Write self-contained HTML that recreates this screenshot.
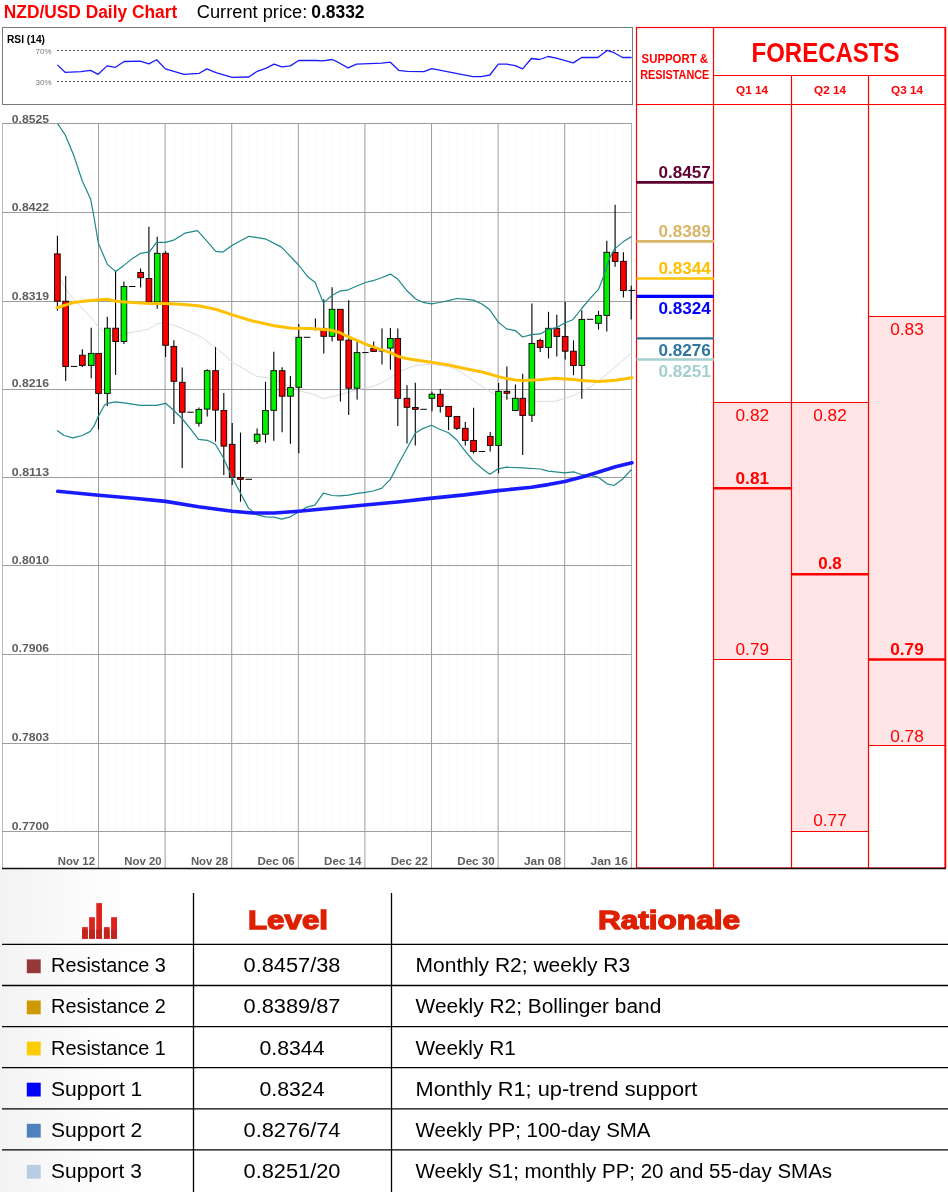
<!DOCTYPE html>
<html><head><meta charset="utf-8"><title>NZD/USD Daily Chart</title>
<style>
html,body{margin:0;padding:0;background:#fff}
body{width:948px;height:1192px;position:relative;overflow:hidden;font-family:"Liberation Sans",sans-serif}
</style></head><body>
<svg width="948" height="880" viewBox="0 0 948 880" style="position:absolute;left:0;top:0" font-family="'Liberation Sans', sans-serif">
<text x="3.8" y="17.8" font-size="17.5" font-weight="bold" fill="#ff0000" textLength="173.4" lengthAdjust="spacingAndGlyphs">NZD/USD Daily Chart</text>
<text x="196.8" y="18.2" font-size="18" fill="#000" textLength="110.5" lengthAdjust="spacingAndGlyphs">Current price:</text>
<text x="311.2" y="18.2" font-size="18" font-weight="bold" fill="#000" textLength="53.4" lengthAdjust="spacingAndGlyphs">0.8332</text>
<rect x="2.5" y="27.5" width="630" height="77" fill="#fff" stroke="#7a7a7a" stroke-width="1"/>
<line x1="57" y1="50.5" x2="632" y2="50.5" stroke="#555" stroke-width="1" stroke-dasharray="2,2"/>
<line x1="57" y1="81.5" x2="632" y2="81.5" stroke="#555" stroke-width="1" stroke-dasharray="2,2"/>
<text x="7" y="43" font-size="10.5" font-weight="bold" fill="#000" textLength="38" lengthAdjust="spacingAndGlyphs">RSI (14)</text>
<text x="51.5" y="53.8" font-size="8" fill="#777" text-anchor="end">70%</text>
<text x="51.5" y="84.6" font-size="8" fill="#777" text-anchor="end">30%</text>
<polyline points="57.4,64.9 65.1,72.3 81.0,71.6 90.5,70.3 98.2,74.3 107.0,65.9 115.4,67.3 124.2,61.5 140.1,61.2 148.9,63.9 156.6,59.8 165.4,68.9 184.0,74.3 199.2,73.3 206.9,68.9 216.0,72.7 232.2,77.4 248.8,77.0 257.2,71.3 265.7,68.3 274.1,64.2 281.9,66.9 290.3,65.9 298.7,60.5 316.0,60.5 322.8,60.8 332.2,59.5 337.9,62.2 348.1,67.9 356.5,64.2 381.8,63.2 390.3,62.2 398.7,70.3 407.1,71.3 424.0,71.6 431.8,68.6 451.0,72.3 473.0,76.7 481.4,76.7 489.8,75.0 498.3,64.2 506.7,64.2 515.2,65.6 522.6,68.9 531.4,58.5 539.5,59.5 548.2,56.5 556.3,58.1 573.2,62.9 581.7,57.5 597.9,57.5 607.0,50.4 614.1,52.7 622.5,57.5 631.6,57.5" fill="none" stroke="#1a1aff" stroke-width="1.3" stroke-linejoin="round"/>
<line x1="2.5" y1="123" x2="2.5" y2="868" stroke="#b8b8b8" stroke-width="1"/>
<line x1="631.5" y1="123" x2="631.5" y2="868" stroke="#b4b4b4" stroke-width="1"/>
<line x1="57.4" y1="124" x2="57.4" y2="831" stroke="#fafafa" stroke-width="1"/>
<line x1="65.7" y1="124" x2="65.7" y2="831" stroke="#fafafa" stroke-width="1"/>
<line x1="74.0" y1="124" x2="74.0" y2="831" stroke="#fafafa" stroke-width="1"/>
<line x1="82.3" y1="124" x2="82.3" y2="831" stroke="#fafafa" stroke-width="1"/>
<line x1="91.2" y1="124" x2="91.2" y2="831" stroke="#fafafa" stroke-width="1"/>
<line x1="98.5" y1="124" x2="98.5" y2="831" stroke="#fafafa" stroke-width="1"/>
<line x1="107.3" y1="124" x2="107.3" y2="831" stroke="#fafafa" stroke-width="1"/>
<line x1="115.6" y1="124" x2="115.6" y2="831" stroke="#fafafa" stroke-width="1"/>
<line x1="123.9" y1="124" x2="123.9" y2="831" stroke="#fafafa" stroke-width="1"/>
<line x1="132.3" y1="124" x2="132.3" y2="831" stroke="#fafafa" stroke-width="1"/>
<line x1="140.6" y1="124" x2="140.6" y2="831" stroke="#fafafa" stroke-width="1"/>
<line x1="148.9" y1="124" x2="148.9" y2="831" stroke="#fafafa" stroke-width="1"/>
<line x1="157.2" y1="124" x2="157.2" y2="831" stroke="#fafafa" stroke-width="1"/>
<line x1="165.6" y1="124" x2="165.6" y2="831" stroke="#fafafa" stroke-width="1"/>
<line x1="173.9" y1="124" x2="173.9" y2="831" stroke="#fafafa" stroke-width="1"/>
<line x1="182.2" y1="124" x2="182.2" y2="831" stroke="#fafafa" stroke-width="1"/>
<line x1="190.5" y1="124" x2="190.5" y2="831" stroke="#fafafa" stroke-width="1"/>
<line x1="198.9" y1="124" x2="198.9" y2="831" stroke="#fafafa" stroke-width="1"/>
<line x1="207.2" y1="124" x2="207.2" y2="831" stroke="#fafafa" stroke-width="1"/>
<line x1="215.5" y1="124" x2="215.5" y2="831" stroke="#fafafa" stroke-width="1"/>
<line x1="223.8" y1="124" x2="223.8" y2="831" stroke="#fafafa" stroke-width="1"/>
<line x1="232.2" y1="124" x2="232.2" y2="831" stroke="#fafafa" stroke-width="1"/>
<line x1="240.5" y1="124" x2="240.5" y2="831" stroke="#fafafa" stroke-width="1"/>
<line x1="248.8" y1="124" x2="248.8" y2="831" stroke="#fafafa" stroke-width="1"/>
<line x1="257.1" y1="124" x2="257.1" y2="831" stroke="#fafafa" stroke-width="1"/>
<line x1="265.5" y1="124" x2="265.5" y2="831" stroke="#fafafa" stroke-width="1"/>
<line x1="273.8" y1="124" x2="273.8" y2="831" stroke="#fafafa" stroke-width="1"/>
<line x1="282.1" y1="124" x2="282.1" y2="831" stroke="#fafafa" stroke-width="1"/>
<line x1="290.4" y1="124" x2="290.4" y2="831" stroke="#fafafa" stroke-width="1"/>
<line x1="298.8" y1="124" x2="298.8" y2="831" stroke="#fafafa" stroke-width="1"/>
<line x1="307.1" y1="124" x2="307.1" y2="831" stroke="#fafafa" stroke-width="1"/>
<line x1="315.4" y1="124" x2="315.4" y2="831" stroke="#fafafa" stroke-width="1"/>
<line x1="323.8" y1="124" x2="323.8" y2="831" stroke="#fafafa" stroke-width="1"/>
<line x1="332.1" y1="124" x2="332.1" y2="831" stroke="#fafafa" stroke-width="1"/>
<line x1="340.4" y1="124" x2="340.4" y2="831" stroke="#fafafa" stroke-width="1"/>
<line x1="348.7" y1="124" x2="348.7" y2="831" stroke="#fafafa" stroke-width="1"/>
<line x1="357.1" y1="124" x2="357.1" y2="831" stroke="#fafafa" stroke-width="1"/>
<line x1="365.4" y1="124" x2="365.4" y2="831" stroke="#fafafa" stroke-width="1"/>
<line x1="373.7" y1="124" x2="373.7" y2="831" stroke="#fafafa" stroke-width="1"/>
<line x1="382.0" y1="124" x2="382.0" y2="831" stroke="#fafafa" stroke-width="1"/>
<line x1="390.4" y1="124" x2="390.4" y2="831" stroke="#fafafa" stroke-width="1"/>
<line x1="397.8" y1="124" x2="397.8" y2="831" stroke="#fafafa" stroke-width="1"/>
<line x1="407.0" y1="124" x2="407.0" y2="831" stroke="#fafafa" stroke-width="1"/>
<line x1="415.3" y1="124" x2="415.3" y2="831" stroke="#fafafa" stroke-width="1"/>
<line x1="423.6" y1="124" x2="423.6" y2="831" stroke="#fafafa" stroke-width="1"/>
<line x1="432.0" y1="124" x2="432.0" y2="831" stroke="#fafafa" stroke-width="1"/>
<line x1="440.3" y1="124" x2="440.3" y2="831" stroke="#fafafa" stroke-width="1"/>
<line x1="448.6" y1="124" x2="448.6" y2="831" stroke="#fafafa" stroke-width="1"/>
<line x1="456.9" y1="124" x2="456.9" y2="831" stroke="#fafafa" stroke-width="1"/>
<line x1="465.3" y1="124" x2="465.3" y2="831" stroke="#fafafa" stroke-width="1"/>
<line x1="473.6" y1="124" x2="473.6" y2="831" stroke="#fafafa" stroke-width="1"/>
<line x1="481.9" y1="124" x2="481.9" y2="831" stroke="#fafafa" stroke-width="1"/>
<line x1="490.2" y1="124" x2="490.2" y2="831" stroke="#fafafa" stroke-width="1"/>
<line x1="498.6" y1="124" x2="498.6" y2="831" stroke="#fafafa" stroke-width="1"/>
<line x1="506.9" y1="124" x2="506.9" y2="831" stroke="#fafafa" stroke-width="1"/>
<line x1="515.4" y1="124" x2="515.4" y2="831" stroke="#fafafa" stroke-width="1"/>
<line x1="522.7" y1="124" x2="522.7" y2="831" stroke="#fafafa" stroke-width="1"/>
<line x1="531.9" y1="124" x2="531.9" y2="831" stroke="#fafafa" stroke-width="1"/>
<line x1="540.2" y1="124" x2="540.2" y2="831" stroke="#fafafa" stroke-width="1"/>
<line x1="548.5" y1="124" x2="548.5" y2="831" stroke="#fafafa" stroke-width="1"/>
<line x1="556.8" y1="124" x2="556.8" y2="831" stroke="#fafafa" stroke-width="1"/>
<line x1="565.2" y1="124" x2="565.2" y2="831" stroke="#fafafa" stroke-width="1"/>
<line x1="573.5" y1="124" x2="573.5" y2="831" stroke="#fafafa" stroke-width="1"/>
<line x1="581.8" y1="124" x2="581.8" y2="831" stroke="#fafafa" stroke-width="1"/>
<line x1="590.1" y1="124" x2="590.1" y2="831" stroke="#fafafa" stroke-width="1"/>
<line x1="598.5" y1="124" x2="598.5" y2="831" stroke="#fafafa" stroke-width="1"/>
<line x1="606.8" y1="124" x2="606.8" y2="831" stroke="#fafafa" stroke-width="1"/>
<line x1="615.1" y1="124" x2="615.1" y2="831" stroke="#fafafa" stroke-width="1"/>
<line x1="623.4" y1="124" x2="623.4" y2="831" stroke="#fafafa" stroke-width="1"/>
<line x1="2" y1="123.5" x2="632" y2="123.5" stroke="#9e9e9e" stroke-width="1"/>
<line x1="2" y1="212.5" x2="632" y2="212.5" stroke="#9e9e9e" stroke-width="1"/>
<line x1="2" y1="301.5" x2="632" y2="301.5" stroke="#9e9e9e" stroke-width="1"/>
<line x1="2" y1="389.5" x2="632" y2="389.5" stroke="#9e9e9e" stroke-width="1"/>
<line x1="2" y1="477.5" x2="632" y2="477.5" stroke="#9e9e9e" stroke-width="1"/>
<line x1="2" y1="565.5" x2="632" y2="565.5" stroke="#9e9e9e" stroke-width="1"/>
<line x1="2" y1="654.5" x2="632" y2="654.5" stroke="#9e9e9e" stroke-width="1"/>
<line x1="2" y1="743.5" x2="632" y2="743.5" stroke="#9e9e9e" stroke-width="1"/>
<line x1="2" y1="831.5" x2="632" y2="831.5" stroke="#9e9e9e" stroke-width="1"/>
<line x1="98.5" y1="123" x2="98.5" y2="868" stroke="#9e9e9e" stroke-width="1"/>
<line x1="165.1" y1="123" x2="165.1" y2="868" stroke="#9e9e9e" stroke-width="1"/>
<line x1="231.7" y1="123" x2="231.7" y2="868" stroke="#9e9e9e" stroke-width="1"/>
<line x1="298.3" y1="123" x2="298.3" y2="868" stroke="#9e9e9e" stroke-width="1"/>
<line x1="364.9" y1="123" x2="364.9" y2="868" stroke="#9e9e9e" stroke-width="1"/>
<line x1="431.5" y1="123" x2="431.5" y2="868" stroke="#9e9e9e" stroke-width="1"/>
<line x1="498.1" y1="123" x2="498.1" y2="868" stroke="#9e9e9e" stroke-width="1"/>
<line x1="564.7" y1="123" x2="564.7" y2="868" stroke="#9e9e9e" stroke-width="1"/>
<text x="11.8" y="122.5" font-size="11.7" font-weight="bold" fill="#5e5e5e" textLength="37.3" lengthAdjust="spacingAndGlyphs">0.8525</text>
<text x="11.8" y="210.6" font-size="11.7" font-weight="bold" fill="#5e5e5e" textLength="37.3" lengthAdjust="spacingAndGlyphs">0.8422</text>
<text x="11.8" y="299.5" font-size="11.7" font-weight="bold" fill="#5e5e5e" textLength="37.3" lengthAdjust="spacingAndGlyphs">0.8319</text>
<text x="11.8" y="386.7" font-size="11.7" font-weight="bold" fill="#5e5e5e" textLength="37.3" lengthAdjust="spacingAndGlyphs">0.8216</text>
<text x="11.8" y="475.7" font-size="11.7" font-weight="bold" fill="#5e5e5e" textLength="37.3" lengthAdjust="spacingAndGlyphs">0.8113</text>
<text x="11.8" y="563.9" font-size="11.7" font-weight="bold" fill="#5e5e5e" textLength="37.3" lengthAdjust="spacingAndGlyphs">0.8010</text>
<text x="11.8" y="651.8" font-size="11.7" font-weight="bold" fill="#5e5e5e" textLength="37.3" lengthAdjust="spacingAndGlyphs">0.7906</text>
<text x="11.8" y="741.3" font-size="11.7" font-weight="bold" fill="#5e5e5e" textLength="37.3" lengthAdjust="spacingAndGlyphs">0.7803</text>
<text x="11.8" y="829.6" font-size="11.7" font-weight="bold" fill="#5e5e5e" textLength="37.3" lengthAdjust="spacingAndGlyphs">0.7700</text>
<text x="95.0" y="864.7" font-size="11.8" font-weight="bold" fill="#5e5e5e" text-anchor="end" textLength="37.3" lengthAdjust="spacingAndGlyphs">Nov 12</text>
<text x="161.6" y="864.7" font-size="11.8" font-weight="bold" fill="#5e5e5e" text-anchor="end" textLength="37.3" lengthAdjust="spacingAndGlyphs">Nov 20</text>
<text x="228.2" y="864.7" font-size="11.8" font-weight="bold" fill="#5e5e5e" text-anchor="end" textLength="37.3" lengthAdjust="spacingAndGlyphs">Nov 28</text>
<text x="294.8" y="864.7" font-size="11.8" font-weight="bold" fill="#5e5e5e" text-anchor="end" textLength="37.3" lengthAdjust="spacingAndGlyphs">Dec 06</text>
<text x="361.4" y="864.7" font-size="11.8" font-weight="bold" fill="#5e5e5e" text-anchor="end" textLength="37.3" lengthAdjust="spacingAndGlyphs">Dec 14</text>
<text x="428.0" y="864.7" font-size="11.8" font-weight="bold" fill="#5e5e5e" text-anchor="end" textLength="37.3" lengthAdjust="spacingAndGlyphs">Dec 22</text>
<text x="494.6" y="864.7" font-size="11.8" font-weight="bold" fill="#5e5e5e" text-anchor="end" textLength="37.3" lengthAdjust="spacingAndGlyphs">Dec 30</text>
<text x="561.2" y="864.7" font-size="11.8" font-weight="bold" fill="#5e5e5e" text-anchor="end" textLength="37.3" lengthAdjust="spacingAndGlyphs">Jan 08</text>
<text x="627.8" y="864.7" font-size="11.8" font-weight="bold" fill="#5e5e5e" text-anchor="end" textLength="37.3" lengthAdjust="spacingAndGlyphs">Jan 16</text>
<polyline points="59.1,277.5 68.2,292.6 80.3,306.7 90.3,316.7 98.4,326.8 107.4,334.8 115.5,336.9 126.5,333.2 140.6,330.8 149.5,328.8 156.5,323.8 165.6,322.8 180.9,327.8 200.2,336.5 215.3,347.1 232.4,362.2 256.5,376.3 274.2,378.9 290.3,386.4 298.5,390.8 312.1,393.8 323.4,398.5 339.5,394.8 357.4,389.8 372.9,386.4 381.6,382.8 390.4,377.7 397.7,372.7 406.5,368.7 415.4,365.7 431.5,364.0 448.5,366.5 456.8,369.6 473.5,380.6 489.8,391.7 498.4,395.7 515.5,399.7 531.4,401.4 555.1,401.3 573.5,395.7 590.3,387.0 607.1,373.9 620.6,362.1 631.5,352.9" fill="none" stroke="#dcdcdc" stroke-width="1" stroke-linejoin="round"/>
<line x1="57.4" y1="235.8" x2="57.4" y2="310.7" stroke="#000" stroke-width="1.1"/>
<rect x="54.5" y="253.9" width="5.7" height="47.3" fill="#ff0000" stroke="#000" stroke-width="0.9"/>
<line x1="65.7" y1="275.9" x2="65.7" y2="381.1" stroke="#000" stroke-width="1.1"/>
<rect x="62.8" y="301.2" width="5.7" height="65.2" fill="#ff0000" stroke="#000" stroke-width="0.9"/>
<line x1="70.8" y1="366.4" x2="77.2" y2="366.4" stroke="#000" stroke-width="1"/>
<line x1="82.3" y1="349.3" x2="82.3" y2="367.0" stroke="#000" stroke-width="1.1"/>
<rect x="79.5" y="355.2" width="5.7" height="10.2" fill="#ff0000" stroke="#000" stroke-width="0.9"/>
<line x1="91.2" y1="327.8" x2="91.2" y2="378.3" stroke="#000" stroke-width="1.1"/>
<rect x="88.4" y="353.4" width="5.7" height="12.0" fill="#00f000" stroke="#000" stroke-width="0.9"/>
<line x1="98.5" y1="353.4" x2="98.5" y2="429.4" stroke="#000" stroke-width="1.1"/>
<rect x="95.7" y="353.4" width="5.7" height="40.0" fill="#ff0000" stroke="#000" stroke-width="0.9"/>
<line x1="107.3" y1="316.7" x2="107.3" y2="406.3" stroke="#000" stroke-width="1.1"/>
<rect x="104.5" y="328.2" width="5.7" height="65.2" fill="#00f000" stroke="#000" stroke-width="0.9"/>
<line x1="115.6" y1="270.4" x2="115.6" y2="375.1" stroke="#000" stroke-width="1.1"/>
<rect x="112.8" y="328.2" width="5.7" height="13.3" fill="#ff0000" stroke="#000" stroke-width="0.9"/>
<line x1="123.9" y1="281.5" x2="123.9" y2="343.9" stroke="#000" stroke-width="1.1"/>
<rect x="121.1" y="286.5" width="5.7" height="55.0" fill="#00f000" stroke="#000" stroke-width="0.9"/>
<line x1="129.1" y1="286.5" x2="135.5" y2="286.5" stroke="#000" stroke-width="1"/>
<line x1="140.6" y1="268.4" x2="140.6" y2="287.5" stroke="#000" stroke-width="1.1"/>
<rect x="137.8" y="272.4" width="5.7" height="5.3" fill="#ff0000" stroke="#000" stroke-width="0.9"/>
<line x1="148.9" y1="226.8" x2="148.9" y2="302.0" stroke="#000" stroke-width="1.1"/>
<rect x="146.1" y="278.5" width="5.7" height="23.5" fill="#ff0000" stroke="#000" stroke-width="0.9"/>
<line x1="157.2" y1="236.8" x2="157.2" y2="308.7" stroke="#000" stroke-width="1.1"/>
<rect x="154.4" y="253.3" width="5.7" height="48.7" fill="#00f000" stroke="#000" stroke-width="0.9"/>
<line x1="165.6" y1="251.3" x2="165.6" y2="357.0" stroke="#000" stroke-width="1.1"/>
<rect x="162.7" y="253.3" width="5.7" height="92.0" fill="#ff0000" stroke="#000" stroke-width="0.9"/>
<line x1="173.9" y1="340.2" x2="173.9" y2="424.1" stroke="#000" stroke-width="1.1"/>
<rect x="171.0" y="346.4" width="5.7" height="34.9" fill="#ff0000" stroke="#000" stroke-width="0.9"/>
<line x1="182.2" y1="367.5" x2="182.2" y2="467.9" stroke="#000" stroke-width="1.1"/>
<rect x="179.4" y="382.3" width="5.7" height="29.9" fill="#ff0000" stroke="#000" stroke-width="0.9"/>
<line x1="187.3" y1="412.2" x2="193.7" y2="412.2" stroke="#000" stroke-width="1"/>
<line x1="198.9" y1="407.5" x2="198.9" y2="426.6" stroke="#000" stroke-width="1.1"/>
<rect x="196.0" y="409.5" width="5.7" height="13.7" fill="#00f000" stroke="#000" stroke-width="0.9"/>
<line x1="207.2" y1="369.2" x2="207.2" y2="416.5" stroke="#000" stroke-width="1.1"/>
<rect x="204.3" y="370.7" width="5.7" height="38.4" fill="#00f000" stroke="#000" stroke-width="0.9"/>
<line x1="215.5" y1="347.1" x2="215.5" y2="441.7" stroke="#000" stroke-width="1.1"/>
<rect x="212.7" y="370.7" width="5.7" height="39.4" fill="#ff0000" stroke="#000" stroke-width="0.9"/>
<line x1="223.8" y1="393.0" x2="223.8" y2="474.9" stroke="#000" stroke-width="1.1"/>
<rect x="221.0" y="410.5" width="5.7" height="35.6" fill="#ff0000" stroke="#000" stroke-width="0.9"/>
<line x1="232.2" y1="423.0" x2="232.2" y2="485.0" stroke="#000" stroke-width="1.1"/>
<rect x="229.3" y="444.3" width="5.7" height="33.0" fill="#ff0000" stroke="#000" stroke-width="0.9"/>
<line x1="240.5" y1="432.6" x2="240.5" y2="501.7" stroke="#000" stroke-width="1.1"/>
<rect x="237.6" y="477.5" width="5.7" height="1.8" fill="#ff0000" stroke="#000" stroke-width="0.9"/>
<line x1="245.6" y1="479.3" x2="252.0" y2="479.3" stroke="#000" stroke-width="1"/>
<line x1="257.1" y1="428.6" x2="257.1" y2="444.1" stroke="#000" stroke-width="1.1"/>
<rect x="254.3" y="434.2" width="5.7" height="7.1" fill="#00f000" stroke="#000" stroke-width="0.9"/>
<line x1="265.5" y1="381.9" x2="265.5" y2="442.7" stroke="#000" stroke-width="1.1"/>
<rect x="262.6" y="410.5" width="5.7" height="23.7" fill="#00f000" stroke="#000" stroke-width="0.9"/>
<line x1="273.8" y1="351.7" x2="273.8" y2="440.7" stroke="#000" stroke-width="1.1"/>
<rect x="270.9" y="370.7" width="5.7" height="39.6" fill="#00f000" stroke="#000" stroke-width="0.9"/>
<line x1="282.1" y1="367.2" x2="282.1" y2="432.2" stroke="#000" stroke-width="1.1"/>
<rect x="279.3" y="370.7" width="5.7" height="25.5" fill="#ff0000" stroke="#000" stroke-width="0.9"/>
<line x1="290.4" y1="375.9" x2="290.4" y2="443.7" stroke="#000" stroke-width="1.1"/>
<rect x="287.6" y="387.6" width="5.7" height="8.6" fill="#00f000" stroke="#000" stroke-width="0.9"/>
<line x1="298.8" y1="324.0" x2="298.8" y2="453.2" stroke="#000" stroke-width="1.1"/>
<rect x="295.9" y="337.3" width="5.7" height="50.0" fill="#00f000" stroke="#000" stroke-width="0.9"/>
<line x1="303.9" y1="337.3" x2="310.3" y2="337.3" stroke="#000" stroke-width="1"/>
<line x1="315.4" y1="318.4" x2="315.4" y2="330.5" stroke="#000" stroke-width="1.1"/>
<line x1="312.0" y1="329.0" x2="318.8" y2="329.0" stroke="#000" stroke-width="1"/>
<line x1="323.8" y1="299.2" x2="323.8" y2="353.6" stroke="#000" stroke-width="1.1"/>
<rect x="320.9" y="328.4" width="5.7" height="7.9" fill="#ff0000" stroke="#000" stroke-width="0.9"/>
<line x1="332.1" y1="287.2" x2="332.1" y2="341.5" stroke="#000" stroke-width="1.1"/>
<rect x="329.2" y="309.3" width="5.7" height="27.0" fill="#00f000" stroke="#000" stroke-width="0.9"/>
<line x1="340.4" y1="309.3" x2="340.4" y2="401.5" stroke="#000" stroke-width="1.1"/>
<rect x="337.5" y="309.3" width="5.7" height="30.8" fill="#ff0000" stroke="#000" stroke-width="0.9"/>
<line x1="348.7" y1="300.2" x2="348.7" y2="415.0" stroke="#000" stroke-width="1.1"/>
<rect x="345.9" y="340.1" width="5.7" height="48.1" fill="#ff0000" stroke="#000" stroke-width="0.9"/>
<line x1="357.1" y1="342.1" x2="357.1" y2="399.5" stroke="#000" stroke-width="1.1"/>
<rect x="354.2" y="352.6" width="5.7" height="35.6" fill="#00f000" stroke="#000" stroke-width="0.9"/>
<line x1="362.2" y1="352.6" x2="368.6" y2="352.6" stroke="#000" stroke-width="1"/>
<line x1="373.7" y1="341.5" x2="373.7" y2="351.4" stroke="#000" stroke-width="1.1"/>
<rect x="370.8" y="348.5" width="5.7" height="2.9" fill="#ff0000" stroke="#000" stroke-width="0.9"/>
<line x1="382.0" y1="328.4" x2="382.0" y2="364.6" stroke="#000" stroke-width="1.1"/>
<line x1="378.6" y1="351.0" x2="385.4" y2="351.0" stroke="#000" stroke-width="1"/>
<line x1="390.4" y1="328.0" x2="390.4" y2="369.7" stroke="#000" stroke-width="1.1"/>
<rect x="387.5" y="338.5" width="5.7" height="9.6" fill="#00f000" stroke="#000" stroke-width="0.9"/>
<line x1="397.8" y1="328.4" x2="397.8" y2="426.0" stroke="#000" stroke-width="1.1"/>
<rect x="394.9" y="338.5" width="5.7" height="59.8" fill="#ff0000" stroke="#000" stroke-width="0.9"/>
<line x1="407.0" y1="385.2" x2="407.0" y2="443.5" stroke="#000" stroke-width="1.1"/>
<rect x="404.1" y="398.3" width="5.7" height="9.0" fill="#ff0000" stroke="#000" stroke-width="0.9"/>
<line x1="415.3" y1="382.8" x2="415.3" y2="445.6" stroke="#000" stroke-width="1.1"/>
<rect x="412.5" y="407.5" width="5.7" height="1.8" fill="#ff0000" stroke="#000" stroke-width="0.9"/>
<line x1="420.4" y1="409.3" x2="426.8" y2="409.3" stroke="#000" stroke-width="1"/>
<line x1="432.0" y1="391.8" x2="432.0" y2="411.3" stroke="#000" stroke-width="1.1"/>
<rect x="429.1" y="394.2" width="5.7" height="4.1" fill="#00f000" stroke="#000" stroke-width="0.9"/>
<line x1="440.3" y1="388.9" x2="440.3" y2="412.4" stroke="#000" stroke-width="1.1"/>
<rect x="437.4" y="394.3" width="5.7" height="12.1" fill="#ff0000" stroke="#000" stroke-width="0.9"/>
<line x1="448.6" y1="406.4" x2="448.6" y2="429.9" stroke="#000" stroke-width="1.1"/>
<rect x="445.8" y="406.4" width="5.7" height="10.0" fill="#ff0000" stroke="#000" stroke-width="0.9"/>
<line x1="456.9" y1="416.4" x2="456.9" y2="429.9" stroke="#000" stroke-width="1.1"/>
<rect x="454.1" y="416.4" width="5.7" height="11.9" fill="#ff0000" stroke="#000" stroke-width="0.9"/>
<line x1="465.3" y1="421.9" x2="465.3" y2="445.4" stroke="#000" stroke-width="1.1"/>
<rect x="462.4" y="428.3" width="5.7" height="12.1" fill="#ff0000" stroke="#000" stroke-width="0.9"/>
<line x1="473.6" y1="407.8" x2="473.6" y2="453.5" stroke="#000" stroke-width="1.1"/>
<rect x="470.7" y="440.4" width="5.7" height="11.1" fill="#ff0000" stroke="#000" stroke-width="0.9"/>
<line x1="478.7" y1="451.5" x2="485.1" y2="451.5" stroke="#000" stroke-width="1"/>
<line x1="490.2" y1="431.9" x2="490.2" y2="451.5" stroke="#000" stroke-width="1.1"/>
<rect x="487.4" y="436.4" width="5.7" height="9.0" fill="#ff0000" stroke="#000" stroke-width="0.9"/>
<line x1="498.6" y1="383.0" x2="498.6" y2="473.2" stroke="#000" stroke-width="1.1"/>
<rect x="495.7" y="391.3" width="5.7" height="54.1" fill="#00f000" stroke="#000" stroke-width="0.9"/>
<line x1="506.9" y1="366.5" x2="506.9" y2="399.7" stroke="#000" stroke-width="1.1"/>
<rect x="504.0" y="391.3" width="5.7" height="2.0" fill="#ff0000" stroke="#000" stroke-width="0.9"/>
<line x1="515.4" y1="384.6" x2="515.4" y2="410.4" stroke="#000" stroke-width="1.1"/>
<rect x="512.5" y="398.3" width="5.7" height="12.1" fill="#00f000" stroke="#000" stroke-width="0.9"/>
<line x1="522.7" y1="373.8" x2="522.7" y2="455.1" stroke="#000" stroke-width="1.1"/>
<rect x="519.9" y="398.3" width="5.7" height="17.1" fill="#ff0000" stroke="#000" stroke-width="0.9"/>
<line x1="531.9" y1="303.5" x2="531.9" y2="421.9" stroke="#000" stroke-width="1.1"/>
<rect x="529.0" y="343.4" width="5.7" height="71.8" fill="#00f000" stroke="#000" stroke-width="0.9"/>
<line x1="540.2" y1="338.4" x2="540.2" y2="352.0" stroke="#000" stroke-width="1.1"/>
<rect x="537.3" y="340.4" width="5.7" height="7.0" fill="#ff0000" stroke="#000" stroke-width="0.9"/>
<line x1="548.5" y1="311.8" x2="548.5" y2="358.5" stroke="#000" stroke-width="1.1"/>
<rect x="545.7" y="328.3" width="5.7" height="19.1" fill="#00f000" stroke="#000" stroke-width="0.9"/>
<line x1="556.8" y1="314.8" x2="556.8" y2="356.5" stroke="#000" stroke-width="1.1"/>
<rect x="554.0" y="328.3" width="5.7" height="8.1" fill="#ff0000" stroke="#000" stroke-width="0.9"/>
<line x1="565.2" y1="302.1" x2="565.2" y2="359.5" stroke="#000" stroke-width="1.1"/>
<rect x="562.3" y="336.4" width="5.7" height="14.8" fill="#ff0000" stroke="#000" stroke-width="0.9"/>
<line x1="573.5" y1="340.4" x2="573.5" y2="375.2" stroke="#000" stroke-width="1.1"/>
<rect x="570.6" y="351.2" width="5.7" height="14.3" fill="#ff0000" stroke="#000" stroke-width="0.9"/>
<line x1="581.8" y1="310.2" x2="581.8" y2="398.7" stroke="#000" stroke-width="1.1"/>
<rect x="579.0" y="319.4" width="5.7" height="46.1" fill="#00f000" stroke="#000" stroke-width="0.9"/>
<line x1="586.9" y1="319.3" x2="593.4" y2="319.3" stroke="#000" stroke-width="1"/>
<line x1="598.5" y1="311.0" x2="598.5" y2="329.6" stroke="#000" stroke-width="1.1"/>
<rect x="595.6" y="315.4" width="5.7" height="7.9" fill="#00f000" stroke="#000" stroke-width="0.9"/>
<line x1="606.8" y1="240.7" x2="606.8" y2="331.5" stroke="#000" stroke-width="1.1"/>
<rect x="603.9" y="252.3" width="5.7" height="63.1" fill="#00f000" stroke="#000" stroke-width="0.9"/>
<line x1="615.1" y1="204.8" x2="615.1" y2="266.7" stroke="#000" stroke-width="1.1"/>
<rect x="612.3" y="252.5" width="5.7" height="8.9" fill="#ff0000" stroke="#000" stroke-width="0.9"/>
<line x1="623.4" y1="252.3" x2="623.4" y2="297.5" stroke="#000" stroke-width="1.1"/>
<rect x="620.6" y="261.3" width="5.7" height="29.3" fill="#ff0000" stroke="#000" stroke-width="0.9"/>
<line x1="631.2" y1="285.8" x2="631.2" y2="319.6" stroke="#000" stroke-width="1.1"/>
<line x1="628.4" y1="290.4" x2="635.2" y2="290.4" stroke="#000" stroke-width="1"/>
<polyline points="57.5,123.5 65.2,134.8 73.4,154.4 82.3,181.0 90.5,198.7 93.1,212.0 98.4,243.3 107.4,264.4 115.5,271.4 123.9,265.4 132.6,258.4 140.6,253.3 149.5,251.9 156.5,242.3 165.6,242.3 173.6,240.2 184.9,233.2 197.5,230.7 207.4,241.7 215.7,251.4 222.9,252.1 232.3,245.3 248.9,236.3 265.2,238.8 281.4,247.1 298.6,265.0 308.1,277.1 315.2,282.5 323.4,302.9 332.3,295.2 339.5,291.2 348.4,289.8 357.4,285.8 365.5,282.5 372.9,280.7 381.6,277.7 390.4,274.1 397.7,279.1 406.5,290.2 415.4,298.8 422.8,302.3 431.5,303.9 439.5,302.5 448.5,300.7 456.8,298.5 464.4,299.1 473.5,300.1 482.3,304.2 489.8,309.8 498.4,322.3 506.5,328.9 515.5,330.7 522.6,337.0 531.4,334.7 540.3,333.9 548.3,329.3 556.4,327.7 564.6,323.0 572.8,319.7 581.7,308.5 590.2,298.3 598.5,289.4 603.4,276.8 609.7,257.9 614.5,248.9 623.5,241.6 631.6,236.5" fill="none" stroke="#1f8888" stroke-width="1.2" stroke-linejoin="round"/>
<polyline points="57.1,430.4 64.1,435.5 73.2,437.9 82.3,435.5 90.3,431.4 94.3,425.4 98.4,416.3 104.4,405.3 107.4,403.3 115.5,401.9 123.9,402.9 140.4,405.3 156.5,405.3 165.6,403.3 173.6,410.3 182.5,419.0 190.9,429.4 198.4,439.3 207.4,440.3 215.3,444.3 223.3,457.8 232.4,477.9 240.4,493.0 248.5,508.1 256.5,514.7 265.4,516.8 274.2,517.2 281.7,519.2 290.3,516.8 298.6,512.1 306.8,507.1 314.9,505.1 323.4,493.2 332.3,495.5 339.5,495.9 348.4,495.1 357.4,493.4 365.5,492.4 372.9,491.0 381.6,488.4 390.4,479.4 397.7,465.3 406.5,449.2 415.4,433.1 422.8,428.6 431.5,425.2 439.5,429.3 448.5,432.8 456.8,440.0 464.4,450.1 473.5,461.1 482.3,468.8 489.8,474.2 498.4,468.8 506.5,467.2 522.6,467.8 540.3,469.0 548.4,471.2 564.7,472.8 573.6,471.9 582.0,474.7 590.4,475.3 597.9,477.1 607.1,483.8 613.9,485.5 622.2,479.6 631.5,469.5" fill="none" stroke="#1f8888" stroke-width="1.2" stroke-linejoin="round"/>
<polyline points="57.1,307.7 73.2,302.6 90.3,300.6 107.4,299.2 115.5,301.2 132.6,302.6 149.5,303.6 165.6,303.6 180.9,304.2 198.5,305.8 216.5,309.5 232.3,314.9 252.5,321.0 274.2,325.7 292.0,328.2 310.1,328.5 330.3,330.0 339.5,332.5 348.4,336.9 357.4,340.5 365.5,344.1 372.9,346.9 381.6,349.6 390.4,352.6 397.7,356.2 406.5,358.6 415.4,360.0 431.5,362.3 448.5,365.0 464.4,368.5 482.3,372.0 498.4,376.6 506.5,378.6 515.5,380.0 522.6,380.6 540.3,379.7 555.1,378.2 573.3,379.6 582.0,380.6 598.7,381.4 615.5,380.2 632.0,377.7" fill="none" stroke="#ffc000" stroke-width="3.0" stroke-linejoin="round" stroke-linecap="round"/>
<polyline points="57.7,491.3 98.8,495.3 133.5,498.2 165.6,501.4 198.4,506.8 232.3,511.2 252.5,513.0 274.2,513.0 298.7,511.2 320.0,509.3 365.0,505.0 400.0,501.7 430.0,498.4 464.4,494.9 498.4,490.6 531.4,487.3 548.3,484.6 564.7,481.6 582.0,477.1 598.7,472.0 615.5,466.7 632.0,462.8" fill="none" stroke="#1a1aff" stroke-width="3.6" stroke-linejoin="round" stroke-linecap="round"/>
<rect x="713.5" y="402.5" width="78" height="257" fill="#ffe5e5"/>
<rect x="791.5" y="402.5" width="77" height="429.2" fill="#ffe5e5"/>
<rect x="868.5" y="316.5" width="77" height="429.2" fill="#ffe5e5"/>
<rect x="636.5" y="27.5" width="309" height="840.5" fill="none" stroke="#ff0000" stroke-width="1.2"/>
<line x1="713.5" y1="27.5" x2="713.5" y2="868" stroke="#ff0000" stroke-width="1.2"/>
<line x1="791.5" y1="75.5" x2="791.5" y2="868" stroke="#ff0000" stroke-width="1.2"/>
<line x1="868.5" y1="75.5" x2="868.5" y2="868" stroke="#ff0000" stroke-width="1.2"/>
<line x1="713.5" y1="75.5" x2="945.5" y2="75.5" stroke="#ff0000" stroke-width="1.2"/>
<line x1="636.5" y1="104.5" x2="945.5" y2="104.5" stroke="#ff0000" stroke-width="1.2"/>
<line x1="945.3" y1="27.5" x2="945.3" y2="868" stroke="#ff0000" stroke-width="1.8"/>
<text x="825.5" y="61.6" font-size="27.5" font-weight="bold" fill="#ff0000" text-anchor="middle" textLength="148" lengthAdjust="spacingAndGlyphs">FORECASTS</text>
<text x="674.8" y="63.3" font-size="12.3" font-weight="bold" fill="#ff0000" text-anchor="middle" textLength="66.5" lengthAdjust="spacingAndGlyphs">SUPPORT &amp;</text>
<text x="674.8" y="79.4" font-size="12.3" font-weight="bold" fill="#ff0000" text-anchor="middle" textLength="69" lengthAdjust="spacingAndGlyphs">RESISTANCE</text>
<text x="752" y="94" font-size="10.5" font-weight="bold" fill="#ff0000" text-anchor="middle" textLength="32" lengthAdjust="spacingAndGlyphs">Q1 14</text>
<text x="830" y="94" font-size="10.5" font-weight="bold" fill="#ff0000" text-anchor="middle" textLength="32" lengthAdjust="spacingAndGlyphs">Q2 14</text>
<text x="907" y="94" font-size="10.5" font-weight="bold" fill="#ff0000" text-anchor="middle" textLength="32" lengthAdjust="spacingAndGlyphs">Q3 14</text>
<line x1="636.5" y1="182.4" x2="714" y2="182.4" stroke="#5c0030" stroke-width="2.9"/>
<text x="710.8" y="177.6" font-size="16.8" font-weight="bold" fill="#5c0030" text-anchor="end" textLength="52.4" lengthAdjust="spacingAndGlyphs">0.8457</text>
<line x1="636.5" y1="241.4" x2="714" y2="241.4" stroke="#d9b568" stroke-width="2.7"/>
<text x="710.8" y="236.6" font-size="16.8" font-weight="bold" fill="#d9b568" text-anchor="end" textLength="52.4" lengthAdjust="spacingAndGlyphs">0.8389</text>
<line x1="636.5" y1="278.5" x2="714" y2="278.5" stroke="#ffc000" stroke-width="2.7"/>
<text x="710.8" y="273.7" font-size="16.8" font-weight="bold" fill="#ffc000" text-anchor="end" textLength="52.4" lengthAdjust="spacingAndGlyphs">0.8344</text>
<line x1="636.5" y1="296.4" x2="714" y2="296.4" stroke="#0000ff" stroke-width="3.3"/>
<text x="710.8" y="314.0" font-size="16.8" font-weight="bold" fill="#0000ff" text-anchor="end" textLength="52.4" lengthAdjust="spacingAndGlyphs">0.8324</text>
<line x1="636.5" y1="338.3" x2="714" y2="338.3" stroke="#2e75a0" stroke-width="2.3"/>
<text x="710.8" y="355.9" font-size="16.8" font-weight="bold" fill="#2e75a0" text-anchor="end" textLength="52.4" lengthAdjust="spacingAndGlyphs">0.8276</text>
<line x1="636.5" y1="359.5" x2="714" y2="359.5" stroke="#a5cfcf" stroke-width="2.5"/>
<text x="710.8" y="377.1" font-size="16.8" font-weight="bold" fill="#a5cfcf" text-anchor="end" textLength="52.4" lengthAdjust="spacingAndGlyphs">0.8251</text>
<text x="752.3" y="420.6" font-size="16" fill="#ff0000" text-anchor="middle" textLength="33.5" lengthAdjust="spacingAndGlyphs">0.82</text>
<text x="752.3" y="483.6" font-size="16" font-weight="bold" fill="#ff0000" text-anchor="middle" textLength="33.5" lengthAdjust="spacingAndGlyphs">0.81</text>
<text x="752.3" y="654.9" font-size="16" fill="#ff0000" text-anchor="middle" textLength="33.5" lengthAdjust="spacingAndGlyphs">0.79</text>
<text x="830" y="420.6" font-size="16" fill="#ff0000" text-anchor="middle" textLength="33.5" lengthAdjust="spacingAndGlyphs">0.82</text>
<text x="830" y="569.2" font-size="16" font-weight="bold" fill="#ff0000" text-anchor="middle" textLength="23.5" lengthAdjust="spacingAndGlyphs">0.8</text>
<text x="830" y="826.3" font-size="16" fill="#ff0000" text-anchor="middle" textLength="33.5" lengthAdjust="spacingAndGlyphs">0.77</text>
<text x="907" y="335.0" font-size="16" fill="#ff0000" text-anchor="middle" textLength="33.5" lengthAdjust="spacingAndGlyphs">0.83</text>
<text x="907" y="654.9" font-size="16" font-weight="bold" fill="#ff0000" text-anchor="middle" textLength="33.5" lengthAdjust="spacingAndGlyphs">0.79</text>
<text x="907" y="741.5" font-size="16" fill="#ff0000" text-anchor="middle" textLength="33.5" lengthAdjust="spacingAndGlyphs">0.78</text>
<line x1="713.5" y1="488.2" x2="791.5" y2="488.2" stroke="#ff0000" stroke-width="2.6"/>
<line x1="791.5" y1="574.3" x2="868.5" y2="574.3" stroke="#ff0000" stroke-width="2.6"/>
<line x1="868.5" y1="659.5" x2="945.5" y2="659.5" stroke="#ff0000" stroke-width="2.6"/>
<line x1="713.5" y1="659.5" x2="791.5" y2="659.5" stroke="#ff0000" stroke-width="1.1"/>
<line x1="713.5" y1="402.5" x2="868.5" y2="402.5" stroke="#ff0000" stroke-width="1.1"/>
<line x1="868.5" y1="316.5" x2="945.5" y2="316.5" stroke="#ff0000" stroke-width="1.1"/>
<line x1="868.5" y1="745.5" x2="945.5" y2="745.5" stroke="#ff0000" stroke-width="1.1"/>
<line x1="791.5" y1="831.5" x2="868.5" y2="831.5" stroke="#ff0000" stroke-width="1.1"/>
</svg>
<svg width="948" height="326" viewBox="0 866 948 326" style="position:absolute;left:0;top:866px" font-family="'Liberation Sans', sans-serif">
<defs><linearGradient id="bg" x1="0" x2="1" y1="0" y2="0"><stop offset="0" stop-color="#f3f3f3"/><stop offset="0.4" stop-color="#f9f9f9"/><stop offset="0.8" stop-color="#fefefe"/><stop offset="1" stop-color="#ffffff"/></linearGradient></defs>
<rect x="0" y="869" width="150" height="323" fill="url(#bg)"/>
<line x1="2" y1="868.4" x2="946" y2="868.4" stroke="#111" stroke-width="1.5"/>
<rect x="82.1" y="927.1" width="5.7" height="11.7" fill="#dc231d"/>
<rect x="82.1" y="929.7" width="5.7" height="9.1" fill="#c02520"/>
<rect x="89.1" y="917.2" width="5.8" height="21.6" fill="#dc231d"/>
<rect x="89.1" y="929.7" width="5.8" height="9.1" fill="#c02520"/>
<rect x="96.3" y="903.1" width="5.7" height="35.7" fill="#dc231d"/>
<rect x="96.3" y="929.7" width="5.7" height="9.1" fill="#c02520"/>
<rect x="103.9" y="927.1" width="5.7" height="11.7" fill="#dc231d"/>
<rect x="103.9" y="929.7" width="5.7" height="9.1" fill="#c02520"/>
<rect x="111.1" y="917.2" width="5.9" height="21.6" fill="#dc231d"/>
<rect x="111.1" y="929.7" width="5.9" height="9.1" fill="#c02520"/>
<line x1="193.5" y1="893" x2="193.5" y2="1192" stroke="#000" stroke-width="1.3"/>
<line x1="391.5" y1="893" x2="391.5" y2="1192" stroke="#000" stroke-width="1.3"/>
<text x="288" y="929.0" font-size="25.6" font-weight="bold" fill="#dd2000" stroke="#dd2000" stroke-width="1.3" stroke-linejoin="miter" text-anchor="middle" textLength="80" lengthAdjust="spacingAndGlyphs">Level</text>
<text x="669" y="929.0" font-size="25.6" font-weight="bold" fill="#dd2000" stroke="#dd2000" stroke-width="1.3" stroke-linejoin="miter" text-anchor="middle" textLength="142" lengthAdjust="spacingAndGlyphs">Rationale</text>
<line x1="2" y1="944.4" x2="948" y2="944.4" stroke="#000" stroke-width="1.3"/>
<rect x="26.8" y="959.4" width="13.9" height="13.8" fill="#943838"/>
<text x="51.1" y="972.3" font-size="20" fill="#000" textLength="114.7" lengthAdjust="spacingAndGlyphs">Resistance 3</text>
<text x="292" y="972.3" font-size="20" fill="#000" text-anchor="middle" textLength="97" lengthAdjust="spacingAndGlyphs">0.8457/38</text>
<text x="415.6" y="972.3" font-size="20" fill="#000" textLength="214.6" lengthAdjust="spacingAndGlyphs">Monthly R2; weekly R3</text>
<line x1="2" y1="985.5" x2="948" y2="985.5" stroke="#000" stroke-width="1.3"/>
<rect x="26.8" y="1000.5" width="13.9" height="13.8" fill="#cc9900"/>
<text x="51.1" y="1013.4" font-size="20" fill="#000" textLength="114.7" lengthAdjust="spacingAndGlyphs">Resistance 2</text>
<text x="292" y="1013.4" font-size="20" fill="#000" text-anchor="middle" textLength="97" lengthAdjust="spacingAndGlyphs">0.8389/87</text>
<text x="415.6" y="1013.4" font-size="20" fill="#000" textLength="245.7" lengthAdjust="spacingAndGlyphs">Weekly R2; Bollinger band</text>
<line x1="2" y1="1026.6" x2="948" y2="1026.6" stroke="#000" stroke-width="1.3"/>
<rect x="26.8" y="1041.6" width="13.9" height="13.8" fill="#ffcc00"/>
<text x="51.1" y="1054.5" font-size="20" fill="#000" textLength="114.7" lengthAdjust="spacingAndGlyphs">Resistance 1</text>
<text x="292" y="1054.5" font-size="20" fill="#000" text-anchor="middle" textLength="65" lengthAdjust="spacingAndGlyphs">0.8344</text>
<text x="415.6" y="1054.5" font-size="20" fill="#000" textLength="100.1" lengthAdjust="spacingAndGlyphs">Weekly R1</text>
<line x1="2" y1="1067.7" x2="948" y2="1067.7" stroke="#000" stroke-width="1.3"/>
<rect x="26.8" y="1082.7" width="13.9" height="13.8" fill="#0000ff"/>
<text x="51.1" y="1095.6" font-size="20" fill="#000" textLength="91.2" lengthAdjust="spacingAndGlyphs">Support 1</text>
<text x="292" y="1095.6" font-size="20" fill="#000" text-anchor="middle" textLength="65" lengthAdjust="spacingAndGlyphs">0.8324</text>
<text x="415.6" y="1095.6" font-size="20" fill="#000" textLength="281.7" lengthAdjust="spacingAndGlyphs">Monthly R1; up-trend support</text>
<line x1="2" y1="1108.8" x2="948" y2="1108.8" stroke="#000" stroke-width="1.3"/>
<rect x="26.8" y="1123.8" width="13.9" height="13.8" fill="#4f81bd"/>
<text x="51.1" y="1136.7" font-size="20" fill="#000" textLength="91.2" lengthAdjust="spacingAndGlyphs">Support 2</text>
<text x="292" y="1136.7" font-size="20" fill="#000" text-anchor="middle" textLength="97" lengthAdjust="spacingAndGlyphs">0.8276/74</text>
<text x="415.6" y="1136.7" font-size="20" fill="#000" textLength="234.9" lengthAdjust="spacingAndGlyphs">Weekly PP; 100-day SMA</text>
<line x1="2" y1="1149.9" x2="948" y2="1149.9" stroke="#000" stroke-width="1.3"/>
<rect x="26.8" y="1164.9" width="13.9" height="13.8" fill="#b8cce4"/>
<text x="51.1" y="1177.8" font-size="20" fill="#000" textLength="90.7" lengthAdjust="spacingAndGlyphs">Support 3</text>
<text x="292" y="1177.8" font-size="20" fill="#000" text-anchor="middle" textLength="97" lengthAdjust="spacingAndGlyphs">0.8251/20</text>
<text x="415.6" y="1177.8" font-size="20" fill="#000" textLength="416.5" lengthAdjust="spacingAndGlyphs">Weekly S1; monthly PP; 20 and 55-day SMAs</text>
</svg>
</body></html>
